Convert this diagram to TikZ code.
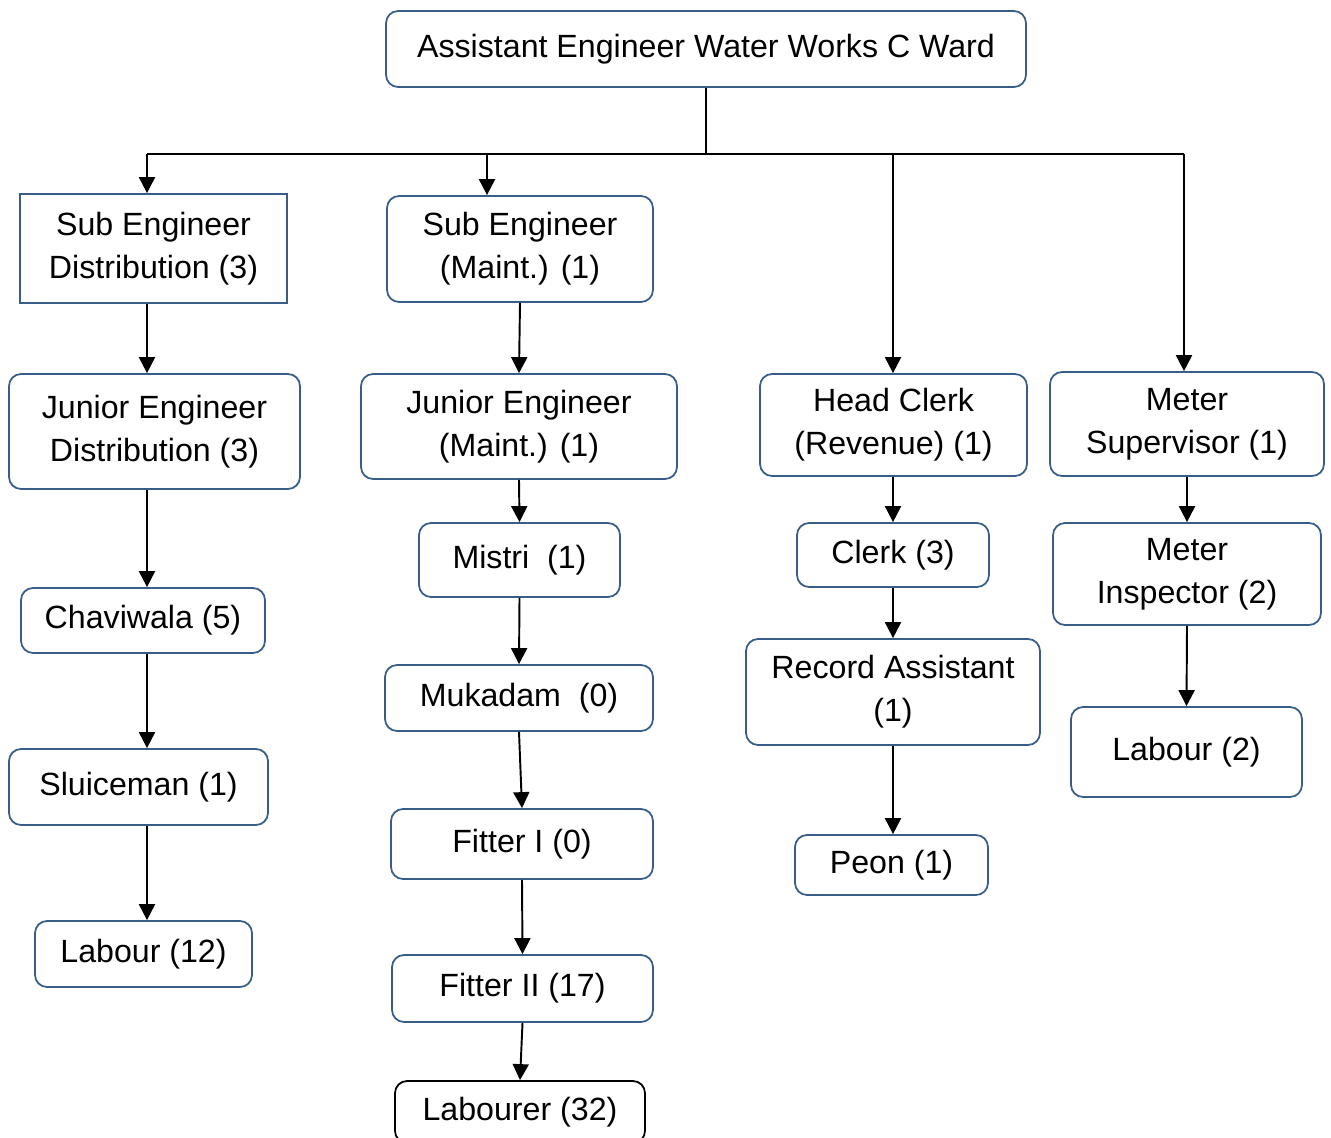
\documentclass[tikz,border=0pt]{standalone}
\usepackage{fontspec}
\setmainfont{Liberation Sans}
\usetikzlibrary{arrows.meta, positioning}
\definecolor{WardBlue}{HTML}{385D8A}

\tikzset{
  box/.style={draw=WardBlue, line width=1pt, rounded corners=0.24cm, inner sep=0pt,
    align=center, font=\fontsize{18.3}{24.5}\selectfont},
  sqbox/.style={box, rounded corners=0pt},
  link/.style={line width=1.1pt, -{Triangle[length=0.32cm, width=0.32cm]}},
  bus/.style={line width=1.1pt}
}

\begin{document}
\begin{tikzpicture}[x=0.02cm, y=-0.02cm]
  % page size of the reference
  \useasboundingbox (0,0) rectangle (1331,1138);

  % head of the ward
  \node[box, minimum width=12.8cm, minimum height=1.52cm] (ae) at (706,49) {Assistant Engineer Water Works C Ward};

  % drop points on the bus line
  \coordinate (bus) at (706,154);
  \coordinate (c1) at (147,154);
  \coordinate (c2) at (487,154);
  \coordinate (c3) at (893,154);
  \coordinate (c4) at (1184,154);

  % distribution column
  \node[sqbox, minimum width=5.34cm, minimum height=2.18cm] (sed) at (153.5,248.5) {Sub Engineer\\Distribution (3)};
  \node[box, minimum width=5.82cm, minimum height=2.3cm] (jed) at (154.5,431.5) {Junior Engineer\\Distribution (3)};
  \node[box, minimum width=4.88cm, minimum height=1.3cm] (chv) at (143,620.5) {Chaviwala (5)};
  \node[box, minimum width=5.18cm, minimum height=1.52cm] (slu) at (138.5,787) {Sluiceman (1)};
  \node[box, minimum width=4.34cm, minimum height=1.32cm] (labA) at (143.5,954) {Labour (12)};

  % maintenance column
  \node[box, minimum width=5.32cm, minimum height=2.12cm] (sem) at (520,249) {Sub Engineer\\(Maint.) (1)};
  \node[box, minimum width=6.32cm, minimum height=2.1cm] (jem) at (519,426.5) {Junior Engineer\\(Maint.) (1)};
  \node[box, minimum width=4.02cm, minimum height=1.48cm] (mis) at (519.5,560) {Mistri\ \ (1)};
  \node[box, minimum width=5.36cm, minimum height=1.32cm] (muk) at (519,698) {Mukadam\ \ (0)};
  \node[box, minimum width=5.24cm, minimum height=1.4cm] (fitA) at (522,844) {Fitter I (0)};
  \node[box, minimum width=5.22cm, minimum height=1.34cm] (fitB) at (522.5,988.5) {Fitter II (17)};
  \node[box, draw=black, minimum width=5cm, minimum height=1.24cm] (lbr) at (520,1112) {Labourer (32)};

  % revenue column
  \node[box, minimum width=5.34cm, minimum height=2.04cm] (hcl) at (893.5,425) {Head Clerk\\(Revenue) (1)};
  \node[box, minimum width=3.84cm, minimum height=1.28cm] (clk) at (893,555) {Clerk (3)};
  \node[box, minimum width=5.88cm, minimum height=2.12cm] (rec) at (893,692) {Record Assistant\\(1)};
  \node[box, minimum width=3.86cm, minimum height=1.2cm] (peon) at (891.5,865) {Peon (1)};

  % meter column
  \node[box, minimum width=5.48cm, minimum height=2.08cm] (msup) at (1187,424) {Meter\\Supervisor (1)};
  \node[box, minimum width=5.36cm, minimum height=2.04cm] (mins) at (1187,574) {Meter\\Inspector (2)};
  \node[box, minimum width=4.62cm, minimum height=1.8cm] (labB) at (1186.5,752) {Labour (2)};

  % bus
  \draw[bus] (ae.south) -- (bus);
  \draw[bus] (c1) -- (c4);
  \draw[link] (c1) -- (sed.north -| c1);
  \draw[link] (c2) -- (sem.north -| c2);
  \draw[link] (c3) -- (hcl.north -| c3);
  \draw[link] (c4) -- (msup.north -| c4);

  % down the columns
  \draw[link] (sed.south -| c1) -- (jed.north -| c1);
  \draw[link] (jed.south -| c1) -- (chv.north -| c1);
  \draw[link] (chv.south -| c1) -- (slu.north -| c1);
  \draw[link] (slu.south -| c1) -- (labA.north -| c1);

  \draw[link] (sem.south) -- (jem.north);
  \draw[link] (jem.south) -- (mis.north);
  \draw[link] (mis.south) -- (muk.north);
  \draw[link] (muk.south) -- (fitA.north);
  \draw[link] (fitA.south) -- (fitB.north);
  \draw[link] (fitB.south) -- (lbr.north);

  \draw[link] (hcl.south -| c3) -- (clk.north -| c3);
  \draw[link] (clk.south -| c3) -- (rec.north -| c3);
  \draw[link] (rec.south -| c3) -- (peon.north -| c3);

  \draw[link] (msup.south) -- (mins.north);
  \draw[link] (mins.south) -- (labB.north);
\end{tikzpicture}
\end{document}
